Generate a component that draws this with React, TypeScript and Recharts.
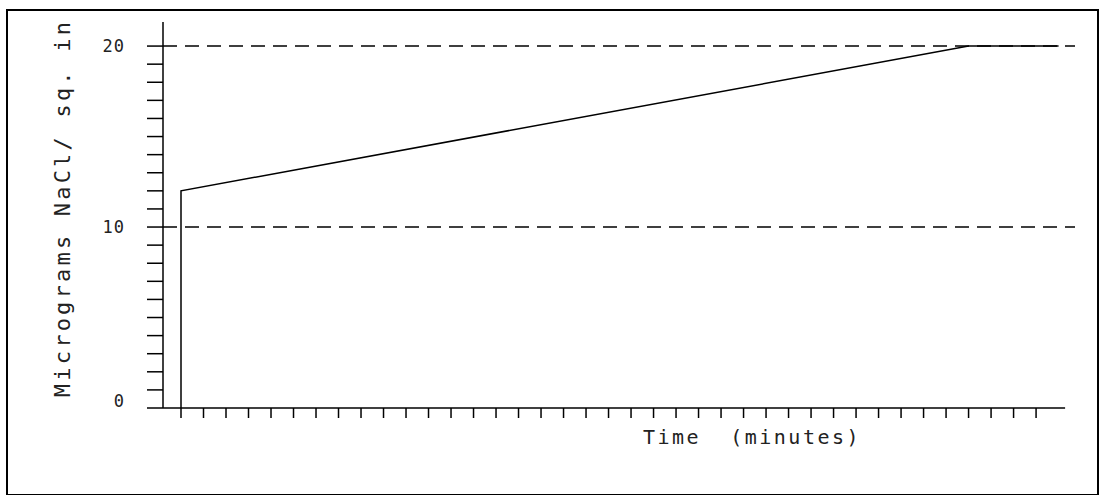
import React from "react";
import { LineChart, Line, XAxis, YAxis, ReferenceLine, Label } from "recharts";

// salt deposit vs. time
const timeMinutes = [0, 0, 35, 39];
const naclPerSqIn = [0, 12, 20, 20];

const yTicks = [0, 1, 2, 3, 4, 5, 6, 7, 8, 9, 10, 11, 12, 13, 14, 15, 16, 17, 18, 19, 20];
const yLabelled = [0, 10, 20];
const xTicks = [
  0, 1, 2, 3, 4, 5, 6, 7, 8, 9, 10, 11, 12, 13, 14, 15, 16, 17, 18, 19,
  20, 21, 22, 23, 24, 25, 26, 27, 28, 29, 30, 31, 32, 33, 34, 35, 36, 37, 38,
];
const dashedLevels = [10, 20];

const data = timeMinutes.map((t, i) => ({ t, v: naclPerSqIn[i] }));

const mono = "'DejaVu Sans Mono', 'Liberation Mono', monospace";

const YTitle = () => (
  <text
    x={62}
    y={208}
    transform="rotate(-90, 62, 208)"
    textAnchor="middle"
    dominantBaseline="central"
    fontFamily={mono}
    fontSize={22}
    letterSpacing={3.2}
    fill="#222"
  >
    Micrograms NaCl/ sq. in
  </text>
);

const XTitle = () => (
  <text
    x={752}
    y={437}
    textAnchor="middle"
    dominantBaseline="central"
    fontFamily={mono}
    fontSize={20}
    letterSpacing={2.5}
    fill="#222"
    style={{ whiteSpace: "pre" }}
  >
    {"Time  (minutes)"}
  </text>
);

const YTick = ({ x, y, payload }: any) => {
  if (!yLabelled.includes(payload.value)) return <g />;
  // the zero label sits a little above its tick in the original
  const dy = payload.value === 0 ? -7 : 0;
  return (
    <text
      x={x}
      y={y + dy}
      textAnchor="end"
      dominantBaseline="central"
      fontFamily={mono}
      fontSize={17}
      letterSpacing={1}
      fill="#222"
    >
      {payload.value}
    </text>
  );
};

export default function App() {
  return (
    <div style={{ position: "absolute", left: 0, top: 0, width: 1099, height: 496, background: "#fff" }}>
      <div
        style={{
          position: "absolute",
          left: 6,
          top: 9,
          width: 1089,
          height: 483,
          borderTop: "2px solid #000",
          borderLeft: "2px solid #000",
          borderRight: "2px solid #000",
          borderBottom: "1px solid #000",
        }}
      />
      <div style={{ position: "absolute", left: 0, top: 0 }}>
        <LineChart width={1099} height={496} data={data} margin={{ top: 22, right: 24, bottom: 58, left: 63 }}>
          <XAxis
            dataKey="t"
            type="number"
            domain={[-0.8, 39.73]}
            ticks={xTicks}
            interval={0}
            allowDataOverflow
            axisLine={false}
            tickSize={10}
            tickLine={{ stroke: "#000", strokeWidth: 1.5 }}
            tickFormatter={() => ""}
            height={30}
          >
            <Label content={<XTitle />} />
          </XAxis>
          <YAxis
            type="number"
            domain={[0, 21.33]}
            ticks={yTicks}
            interval={0}
            allowDataOverflow
            width={100}
            axisLine={{ stroke: "#000", strokeWidth: 1.5 }}
            tickSize={16}
            tickMargin={22}
            tickLine={{ stroke: "#000", strokeWidth: 1.5 }}
            tick={<YTick />}
          >
            <Label content={<YTitle />} />
          </YAxis>
          {dashedLevels.map((lv) => (
            <ReferenceLine key={lv} y={lv} stroke="#000" strokeWidth={1.5} strokeDasharray="14 8" />
          ))}
          <ReferenceLine
            segment={[
              { x: -0.8, y: 0 },
              { x: 39.29, y: 0 },
            ]}
            stroke="#000"
            strokeWidth={1.5}
          />
          <Line
            dataKey="v"
            type="linear"
            stroke="#000"
            strokeWidth={1.5}
            dot={false}
            isAnimationActive={false}
          />
        </LineChart>
      </div>
    </div>
  );
}
